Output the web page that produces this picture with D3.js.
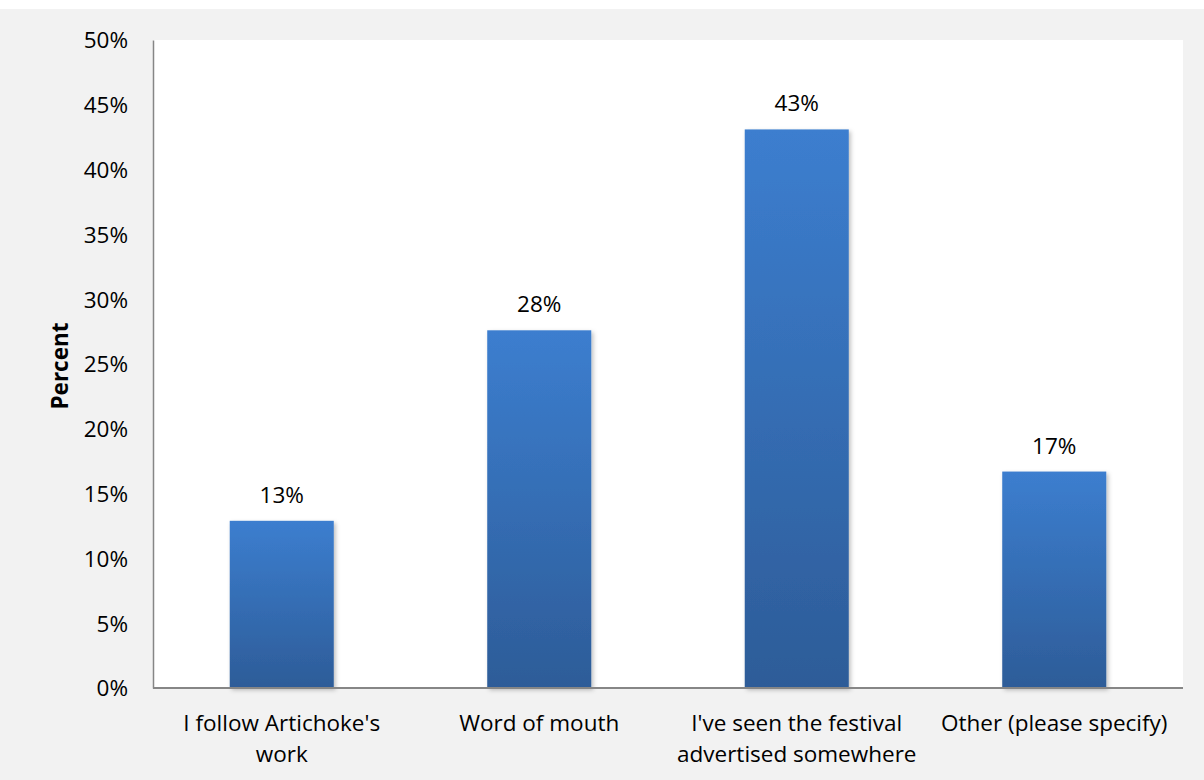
<!DOCTYPE html>
<html>
<head>
<meta charset="utf-8">
<script src="https://cdn.jsdelivr.net/npm/d3@7/dist/d3.min.js"></script>
<style>
  html, body { margin: 0; padding: 0; background: #ffffff; }
  svg { display: block; }
  text { font-family: "Open Sans", "Liberation Sans", sans-serif; fill: #000; }
</style>
</head>
<body>
<div id="chart"></div>
<script>
// How respondents heard about the festival
const categories = [
  ["I follow Artichoke's", "work"],
  ["Word of mouth"],
  ["I've seen the festival", "advertised somewhere"],
  ["Other (please specify)"]
];
const shares = [0.129, 0.276, 0.431, 0.167];
const yTicks = [0, 0.05, 0.10, 0.15, 0.20, 0.25, 0.30, 0.35, 0.40, 0.45, 0.50];
const yTitle = "Percent";

const W = 1204, H = 780;
const margin = { top: 40, right: 21, bottom: 92, left: 153 };
const fontSize = 22.5;

const svg = d3.select("#chart").append("svg")
  .attr("width", W).attr("height", H);

const defs = svg.append("defs");
const grad = defs.append("linearGradient")
  .attr("id", "barFill").attr("x1", 0).attr("y1", 0).attr("x2", 0).attr("y2", 1);
grad.append("stop").attr("offset", "0%").attr("stop-color", "#3c7ecf");
grad.append("stop").attr("offset", "100%").attr("stop-color", "#2d5c98");

const shadow = defs.append("filter").attr("id", "barShadow")
  .attr("x", "-10%").attr("y", "-10%").attr("width", "130%").attr("height", "130%");
shadow.append("feDropShadow")
  .attr("dx", 2).attr("dy", 2).attr("stdDeviation", 2)
  .attr("flood-color", "#000").attr("flood-opacity", 0.25);

// chart background
svg.append("rect").attr("x", 0).attr("y", 9).attr("width", W).attr("height", H - 9)
  .attr("fill", "#f2f2f2");

const x = d3.scaleBand()
  .domain(d3.range(categories.length))
  .range([margin.left, W - margin.right])
  .paddingInner(0.596).paddingOuter(0.298);

const y = d3.scaleLinear()
  .domain([0, 0.5])
  .range([H - margin.bottom, margin.top]);

// plot area
svg.append("rect")
  .attr("x", margin.left).attr("y", margin.top)
  .attr("width", W - margin.right - margin.left)
  .attr("height", H - margin.bottom - margin.top)
  .attr("fill", "#ffffff");

// bars
svg.append("g").selectAll("rect")
  .data(shares)
  .join("rect")
  .attr("x", (d, i) => x(i))
  .attr("y", d => y(d))
  .attr("width", x.bandwidth())
  .attr("height", d => y(0) - y(d))
  .attr("fill", "url(#barFill)")
  .attr("filter", "url(#barShadow)");

// value labels
const fmt = d3.format(".0%");
svg.append("g").selectAll("text")
  .data(shares)
  .join("text")
  .attr("x", (d, i) => x(i) + x.bandwidth() / 2)
  .attr("y", d => y(d) - 18)
  .attr("text-anchor", "middle")
  .attr("font-size", fontSize)
  .text(d => fmt(d));

// y axis
const yAxis = d3.axisLeft(y)
  .tickValues(yTicks)
  .tickFormat(d3.format(".0%"))
  .tickSize(0).tickPadding(25);
const gy = svg.append("g")
  .attr("transform", `translate(${margin.left},0)`)
  .call(yAxis);
gy.select(".domain").attr("stroke", "#868686").attr("stroke-width", 1.5);
gy.selectAll("text").attr("font-size", fontSize).attr("font-family", "\"Open Sans\", sans-serif").attr("fill", "#000").attr("dy", "0.35em");

// x axis line
svg.append("line")
  .attr("x1", margin.left).attr("x2", W - margin.right)
  .attr("y1", y(0)).attr("y2", y(0))
  .attr("stroke", "#868686").attr("stroke-width", 2);

// category labels
const cat = svg.append("g").selectAll("text")
  .data(categories)
  .join("text")
  .attr("x", (d, i) => x(i) + x.bandwidth() / 2)
  .attr("y", y(0) + 43)
  .attr("text-anchor", "middle")
  .attr("font-size", fontSize);
cat.selectAll("tspan")
  .data(d => d)
  .join("tspan")
  .attr("x", function () { return d3.select(this.parentNode).attr("x"); })
  .attr("dy", (d, i) => i === 0 ? 0 : 31)
  .text(d => d);

// y title
svg.append("text")
  .attr("transform", `translate(68,${(margin.top + H - margin.bottom) / 2 + 2}) rotate(-90)`)
  .attr("text-anchor", "middle")
  .attr("font-size", 22.5)
  .attr("font-weight", "bold")
  .text(yTitle);
</script>
</body>
</html>
